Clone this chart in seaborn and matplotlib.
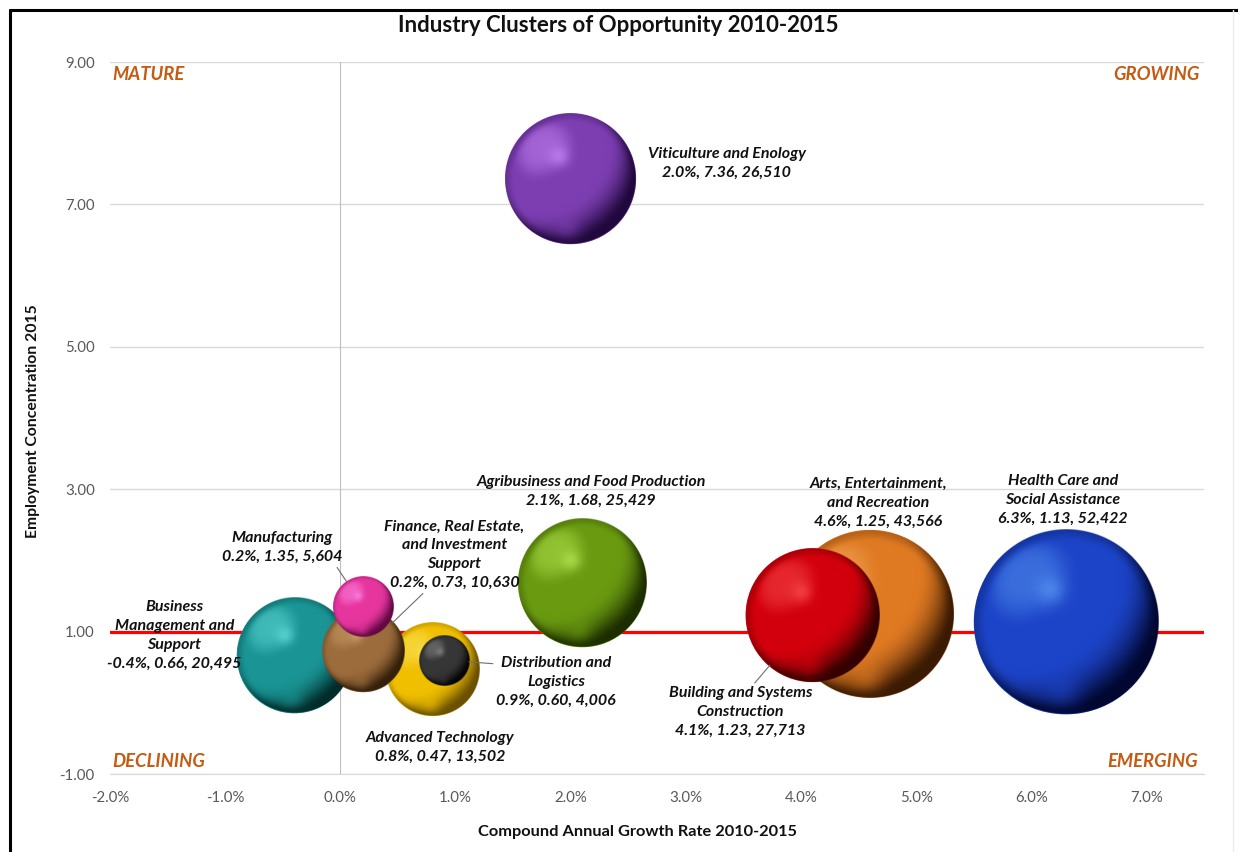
import numpy as np
import pandas as pd
import matplotlib
matplotlib.use("Agg")
import matplotlib.pyplot as plt
import seaborn as sns
from matplotlib.colors import to_rgb
from matplotlib.lines import Line2D

# ---- data -------------------------------------------------------------
clusters = [
    "Business Management and Support",
    "Manufacturing",
    "Finance, Real Estate, and Investment Support",
    "Advanced Technology",
    "Distribution and Logistics",
    "Agribusiness and Food Production",
    "Viticulture and Enology",
    "Building and Systems Construction",
    "Arts, Entertainment, and Recreation",
    "Health Care and Social Assistance",
]
growth = [-0.4, 0.2, 0.2, 0.8, 0.9, 2.1, 2.0, 4.1, 4.6, 6.3]           # CAGR 2010-2015, %
concentration = [0.66, 1.35, 0.73, 0.47, 0.60, 1.68, 7.36, 1.23, 1.25, 1.13]
employment = [20495, 5604, 10630, 13502, 4006, 25429, 26510, 27713, 43566, 52422]

label_names = [
    "Business\nManagement and\nSupport",
    "Manufacturing",
    "Finance, Real Estate,\nand Investment\nSupport",
    "Advanced Technology",
    "Distribution and\nLogistics",
    "Agribusiness and Food Production",
    "Viticulture and Enology",
    "Building and Systems\nConstruction",
    "Arts, Entertainment,\nand Recreation",
    "Health Care and\nSocial Assistance",
]
x_ticks = [-2, -1, 0, 1, 2, 3, 4, 5, 6, 7]
y_ticks = [-1, 1, 3, 5, 7, 9]
quadrants = ["MATURE", "GROWING", "DECLINING", "EMERGING"]

# ---- styles -----------------------------------------------------------
# (light, base, dark) shading per cluster
sphere_colors = [
    ("#6ee6e6", "#1a9494", "#022c2c"),
    ("#ff94f0", "#e6369e", "#640844"),
    ("#d4a672", "#9c6c3c", "#34200a"),
    ("#ffec70", "#f0bf00", "#6a5000"),
    ("#959595", "#363636", "#050505"),
    ("#c0f25a", "#6a9a10", "#1c2e00"),
    ("#d090ff", "#7d3eb2", "#20083c"),
    ("#ff5656", "#d2000c", "#340000"),
    ("#f7b06a", "#e07a22", "#3a1a02"),
    ("#609ff6", "#1c44c8", "#010730"),
]
# label offsets from bubble centre, in pixels (x right, y up)
label_offsets = [(-120, 20), (-81, 59), (91, 96), (8, -78), (112, -22),
                 (9, 92), (156, 15), (-72, -97), (8, 111), (-3, 122)]
# leader lines: start point on the label box (relative position)
leaders = {1: (0.9, 0.2), 2: (0.3, 0.0), 4: (0.0, 0.85), 7: (0.58, 1.0)}

SIZE_PER_JOB = 0.335      # marker area (pt^2) per employee
QUAD_COLOR = "#C55A11"
TICK_COLOR = "#595959"
GRID_COLOR = "#d9d9d9"
TEXT_COLOR = "#111111"

sns.set_style("white")
plt.rcParams["font.family"] = ["Lato", "DejaVu Sans"]

df = pd.DataFrame({
    "cluster": clusters,
    "growth": growth,
    "concentration": concentration,
    "employment": employment,
})

W, H = 1238, 852
DPI = 100
fig = plt.figure(figsize=(W / DPI, H / DPI), dpi=DPI)
ax = fig.add_axes([110 / W, 1 - 774 / H, 1094 / W, 712 / H])
ax.set_xlim(-2, 7.5)
ax.set_ylim(-1, 9)

# reference lines
ax.axhline(1, color="#ff0000", lw=2.3, zorder=2)
ax.axvline(0, color="#bfbfbf", lw=0.8, zorder=1.5)

# base bubbles (area proportional to employment)
emin, emax = min(employment), max(employment)
sns.scatterplot(
    data=df, x="growth", y="concentration", size="employment",
    sizes=(emin * SIZE_PER_JOB, emax * SIZE_PER_JOB), size_norm=(emin, emax),
    hue="cluster", palette=[c[1] for c in sphere_colors],
    linewidth=0, legend=False, ax=ax, zorder=2.5,
)


def smoothstep(a, b, x):
    t = np.clip((x - a) / (b - a), 0, 1)
    return t * t * (3 - 2 * t)


def sphere_image(light, base, dark, n):
    """RGBA picture of a lit sphere filling an n x n square."""
    light, base, dark = (np.array(to_rgb(c)) for c in (light, base, dark))
    g = np.linspace(-1, 1, n)
    U, V = np.meshgrid(g, -g)
    R = np.sqrt(U ** 2 + V ** 2)
    Z = np.sqrt(np.clip(1 - R ** 2, 0, 1))
    L = np.array([-0.45, 0.50, 0.74])
    L /= np.linalg.norm(L)
    d = U * L[0] + V * L[1] + Z * L[2]
    # dark -> base across the shadowed side
    w_dark = smoothstep(-0.30, 0.50, d)[..., None]
    col = dark + (base - dark) * w_dark
    # gentle lift toward the lit pole
    w_lit = (smoothstep(0.80, 1.0, d) ** 1.5)[..., None]
    col = col + (light - col) * w_lit * 0.45
    # soft specular spot
    spec = np.exp(-((U + 0.17) ** 2 + (V - 0.34) ** 2) / 0.025)[..., None]
    col = col + (light - col) * spec * 0.55
    # bounce light along the lower part
    refl = np.exp(-((U + 0.05) ** 2 + (V + 0.74) ** 2) / 0.04)[..., None]
    col = col + (base - col) * refl * 0.5
    # slight darkening all round the rim
    rim = smoothstep(0.86, 1.0, R)[..., None]
    col = col + (dark - col) * rim * 0.25
    col = np.clip(col, 0, 1)
    alpha = np.clip((1 - R) * n / 2 + 0.5, 0, 1)
    return np.dstack([col, alpha])


# spheres drawn largest first so smaller ones sit in front
px_per_x = ax.transData.transform((1, 0))[0] - ax.transData.transform((0, 0))[0]
px_per_y = ax.transData.transform((0, 1))[1] - ax.transData.transform((0, 0))[1]
order = df.sort_values("employment", ascending=False).index
for rank, i in enumerate(order):
    x, y, e = growth[i], concentration[i], employment[i]
    r_px = np.sqrt(e * SIZE_PER_JOB) / 2 * DPI / 72
    rx, ry = r_px / px_per_x, r_px / px_per_y
    img = sphere_image(*sphere_colors[i], n=int(4 * r_px))
    ax.imshow(img, extent=[x - rx, x + rx, y - ry, y + ry], origin="upper",
              aspect="auto", interpolation="bilinear", zorder=3 + rank * 0.1)

# data labels
for i in range(len(clusters)):
    text = f"{label_names[i]}\n{growth[i]:.1f}%, {concentration[i]:.2f}, {employment[i]:,}"
    r_pt = np.sqrt(employment[i] * SIZE_PER_JOB) / 2
    kw = {}
    if i in leaders:
        kw["arrowprops"] = dict(arrowstyle="-", color="#6f6f6f", lw=0.8,
                                relpos=leaders[i], shrinkA=0, shrinkB=r_pt * 0.98)
    ax.annotate(text, xy=(growth[i], concentration[i]),
                xytext=label_offsets[i], textcoords="offset pixels",
                ha="center", va="center", multialignment="center",
                fontsize=11.5, fontweight="bold", fontstyle="italic",
                color=TEXT_COLOR, linespacing=1.45, zorder=10, **kw)

# quadrant captions
qkw = dict(transform=ax.transAxes, color=QUAD_COLOR, fontsize=13.3,
           fontweight="bold", fontstyle="italic", va="center", zorder=11)
ax.text(0.002, 0.982, quadrants[0], ha="left", **qkw)
ax.text(0.996, 0.982, quadrants[1], ha="right", **qkw)
ax.text(0.002, 0.017, quadrants[2], ha="left", **qkw)
ax.text(0.994, 0.017, quadrants[3], ha="right", **qkw)

# axes
ax.set_xlim(-2, 7.5)
ax.set_ylim(-1, 9)
ax.set_xticks(x_ticks)
ax.set_xticklabels([f"{v:.1f}%" for v in x_ticks])
ax.set_yticks(y_ticks)
ax.set_yticklabels([f"{v:.2f}" for v in y_ticks])
ax.tick_params(axis="both", length=0, labelsize=10.8, colors=TICK_COLOR)
ax.tick_params(axis="y", pad=11)
ax.tick_params(axis="x", pad=12)
ax.grid(axis="y", color=GRID_COLOR, lw=1, zorder=0)
ax.grid(axis="x", visible=False)
ax.set_axisbelow(True)
for side in ("top", "right", "left"):
    ax.spines[side].set_visible(False)
ax.spines["bottom"].set_color(GRID_COLOR)
ax.set_xlabel("")
ax.set_ylabel("")

# titles
fig.text(618 / W, 1 - 25 / H, "Industry Clusters of Opportunity 2010-2015",
         ha="center", va="center", fontsize=16, fontweight="bold", color=TEXT_COLOR)
fig.text(637 / W, 1 - 832 / H, "Compound Annual Growth Rate 2010-2015",
         ha="center", va="center", fontsize=11.8, fontweight="bold", color=TEXT_COLOR)
fig.text(33 / W, 1 - 421 / H, "Employment Concentration 2015", rotation=90,
         ha="center", va="center", fontsize=11.3, fontweight="bold", color=TEXT_COLOR)

# chart frame
fig.add_artist(Line2D([10 / W, 1], [1 - 10 / H, 1 - 10 / H], color="black",
                      lw=2.2, transform=fig.transFigure))
fig.add_artist(Line2D([10 / W, 10 / W], [0, 1 - 10 / H], color="black",
                      lw=2.2, transform=fig.transFigure))
fig.add_artist(Line2D([1233 / W, 1233 / W], [0, 1 - 10 / H], color="#ececec",
                      lw=1, transform=fig.transFigure))

fig.savefig("out.png", dpi=DPI, facecolor="white")
